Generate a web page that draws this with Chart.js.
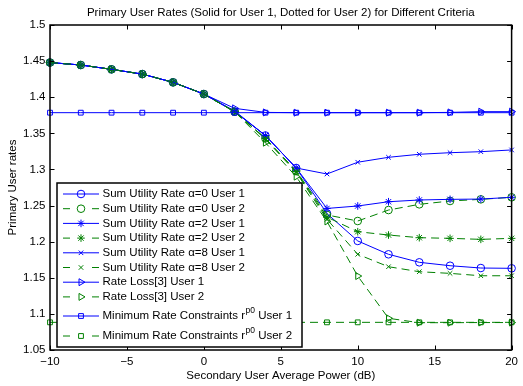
<!DOCTYPE html>
<html><head><meta charset="utf-8">
<script src="https://cdn.jsdelivr.net/npm/chart.js@4/dist/chart.umd.min.js"></script>
<style>html,body{margin:0;padding:0;background:#fff}#wrap{width:523px;height:386px}</style>
</head><body><div id="wrap"><canvas id="c" width="523" height="386"></canvas></div>
<script>
// ---- data ----
const xValues = [-10,-8,-6,-4,-2,0,2,4,6,8,10,12,14,16,18,20];
const sumU0User1 = [1.448,1.4446,1.4386,1.432,1.4206,1.4044,1.380,1.347,1.302,1.239,1.201,1.1825,1.1714,1.1667,1.1635,1.1631];
const sumU0User2 = [1.448,1.4446,1.4386,1.432,1.4206,1.4044,1.380,1.343,1.298,1.237,1.2286,1.2438,1.2517,1.2563,1.2586,1.2614];
const sumU2User1 = [1.448,1.4446,1.4386,1.432,1.4206,1.4044,1.380,1.347,1.302,1.246,1.2494,1.2553,1.2577,1.2586,1.259,1.2614];
const sumU2User2 = [1.448,1.4446,1.4386,1.432,1.4206,1.4044,1.380,1.343,1.297,1.234,1.2138,1.2092,1.2055,1.2046,1.2032,1.2046];
const sumU8User1 = [1.448,1.4446,1.4386,1.432,1.4206,1.4044,1.381,1.347,1.302,1.2937,1.310,1.3168,1.321,1.3232,1.3246,1.327];
const sumU8User2 = [1.448,1.4446,1.4386,1.432,1.4206,1.4044,1.380,1.342,1.296,1.231,1.1825,1.1653,1.1584,1.1561,1.1528,1.1528];
const rateLossUser1 = [1.448,1.4446,1.4386,1.432,1.4206,1.4044,1.3846,1.379,1.3786,1.3786,1.3786,1.3786,1.3786,1.379,1.380,1.380];
const rateLossUser2 = [1.448,1.4446,1.4386,1.432,1.4206,1.4044,1.380,1.337,1.290,1.228,1.1524,1.0939,1.0878,1.0878,1.088,1.088];
const minRateUser1 = [1.3786,1.3786,1.3786,1.3786,1.3786,1.3786,1.3786,1.3786,1.3786,1.3786,1.3786,1.3786,1.3786,1.3786,1.3786,1.3786];
const minRateUser2 = [1.0883,1.0883,1.0883,1.0883,1.0883,1.0883,1.0883,1.0883,1.0883,1.0883,1.0883,1.0883,1.0883,1.0883,1.0883,1.0883];
const seriesLabels = [
  "Sum Utility Rate \u03b1=0 User 1","Sum Utility Rate \u03b1=0 User 2",
  "Sum Utility Rate \u03b1=2 User 1","Sum Utility Rate \u03b1=2 User 2",
  "Sum Utility Rate \u03b1=8 User 1","Sum Utility Rate \u03b1=8 User 2",
  "Rate Loss[3] User 1","Rate Loss[3] User 2",
  "Minimum Rate Constraints r^{p0} User 1","Minimum Rate Constraints r^{p0} User 2"];
const xTicks = [-10,-5,0,5,10,15,20];
const yTicks = [1.05,1.1,1.15,1.2,1.25,1.3,1.35,1.4,1.45,1.5];
const titleText = "Primary User Rates (Solid for User 1, Dotted for User 2) for Different Criteria";
const xTitle = "Secondary User Average Power (dB)";
const yTitle = "Primary User rates";

// ---- styles ----
const FONT = "'Liberation Sans', Arial, Helvetica, sans-serif";
const FS = 11.5;
const BLUE = 'rgb(0,0,255)', GREEN = 'rgb(0,128,0)';
const allSeries = [sumU0User1,sumU0User2,sumU2User1,sumU2User2,sumU8User1,sumU8User2,rateLossUser1,rateLossUser2,minRateUser1,minRateUser2];
const markers = [
  {s:'circle',r:3.8,rot:0},{s:'circle',r:3.8,rot:0},
  {s:'star',r:3.8,rot:0},{s:'star',r:3.8,rot:0},
  {s:'crossRot',r:3.2,rot:0},{s:'crossRot',r:3.2,rot:0},
  {s:'triangle',r:4,rot:90},{s:'triangle',r:4,rot:90},
  {s:'rect',r:3.4,rot:0},{s:'rect',r:3.4,rot:0}];
const DASH = [8,5];

const datasets = allSeries.map((arr,i)=>{
  const user2 = i%2===1;
  const col = user2?GREEN:BLUE;
  return {
    label: seriesLabels[i],
    data: xValues.map((x,k)=>({x:x,y:arr[k]})),
    order: 20-i,
    borderColor: col, pointBorderColor: col,
    backgroundColor:'rgba(0,0,0,0)', pointBackgroundColor:'rgba(0,0,0,0)',
    borderWidth: 1, borderDash: user2?DASH:[],
    pointStyle: markers[i].s, pointRadius: markers[i].r, pointRotation: markers[i].rot,
    pointBorderWidth: 1, pointHoverRadius: markers[i].r,
    tension: 0, clip: false, fill:false
  };
});

const framePlugin = {
  id:'frame',
  afterDraw(chart){
    const {ctx, chartArea:{left,right,top,bottom}, scales:{x,y}} = chart;
    ctx.save();
    // title
    ctx.fillStyle='#000'; ctx.font=FS+'px '+FONT; ctx.textAlign='center'; ctx.textBaseline='middle';
    ctx.fillText(titleText,(left+right)/2,12.6);
    // ticks
    ctx.strokeStyle='#000'; ctx.lineWidth=1; const tl=4.5;
    ctx.beginPath();
    xTicks.forEach(v=>{const p=Math.round(x.getPixelForValue(v))+0.5;
      ctx.moveTo(p,bottom);ctx.lineTo(p,bottom-tl);ctx.moveTo(p,top);ctx.lineTo(p,top+tl);});
    yTicks.forEach(v=>{const p=Math.round(y.getPixelForValue(v))+0.5;
      ctx.moveTo(left,p);ctx.lineTo(left+tl,p);ctx.moveTo(right,p);ctx.lineTo(right-tl,p);});
    ctx.stroke();
    ctx.lineWidth=1.5; ctx.strokeRect(left,top,right-left,bottom-top);
    // legend
    const lx=57, ly=183, lw=245, lh=164;
    ctx.fillStyle='#fff'; ctx.fillRect(lx,ly,lw,lh);
    ctx.lineWidth=1.5; ctx.strokeStyle='#000'; ctx.strokeRect(lx,ly,lw,lh);
    const rows=[194,208.7,223.4,238.1,252.8,267.5,282.2,296.9,316,336];
    chart.data.datasets.forEach((ds,i)=>{
      const yy=rows[i];
      const user2=i%2===1;
      ctx.strokeStyle=ds.borderColor; ctx.lineWidth=1; ctx.setLineDash([]);
      ctx.beginPath();
      if(user2){ctx.moveTo(63,yy);ctx.lineTo(70,yy);ctx.moveTo(92,yy);ctx.lineTo(99,yy);}
      else {ctx.moveTo(63,yy);ctx.lineTo(99,yy);}
      ctx.stroke();
      ctx.fillStyle='rgba(0,0,0,0)';
      Chart.helpers.drawPoint(ctx,{pointStyle:ds.pointStyle,rotation:ds.pointRotation,radius:ds.pointRadius,borderWidth:1},81,yy);
      // text
      ctx.fillStyle='#000'; ctx.textAlign='left'; ctx.textBaseline='middle';
      const lab=ds.label; let tx=102.5;
      const m=lab.match(/^(.*)\^\{(.*?)\}(.*)$/);
      if(m){
        ctx.font=FS+'px '+FONT; ctx.fillText(m[1],tx,yy); tx+=ctx.measureText(m[1]).width;
        ctx.font='8.5px '+FONT; ctx.fillText(m[2],tx+0.5,yy-5); tx+=ctx.measureText(m[2]).width+0.5;
        ctx.font=FS+'px '+FONT; ctx.fillText(m[3],tx,yy);
      } else { ctx.font=FS+'px '+FONT; ctx.fillText(lab,tx,yy); }
    });
    ctx.restore();
  }
};

new Chart(document.getElementById('c'),{
  type:'line',
  data:{datasets:datasets},
  options:{
    responsive:false, animation:false, devicePixelRatio:1,
    layout:{padding:{left:0,right:7,top:25,bottom:0}},
    plugins:{legend:{display:false},title:{display:false},tooltip:{enabled:false}},
    scales:{
      x:{type:'linear',min:-10,max:20,
        grid:{display:false,drawTicks:false}, border:{display:false},
        afterBuildTicks:s=>{s.ticks=xTicks.map(v=>({value:v}));},
        afterFit:s=>{s.height=36;},
        ticks:{padding:5,color:'#000',font:{size:FS,family:FONT},maxRotation:0,autoSkip:false,
          callback:v=>String(v).replace('-','\u2212')},
        title:{display:true,text:xTitle,color:'#000',font:{size:FS,family:FONT},padding:{top:0,bottom:3.5}}},
      y:{type:'linear',min:1.05,max:1.5,
        grid:{display:false,drawTicks:false}, border:{display:false},
        afterBuildTicks:s=>{s.ticks=yTicks.map(v=>({value:v}));},
        afterFit:s=>{s.width=50;},
        ticks:{padding:4.5,color:'#000',font:{size:FS,family:FONT},autoSkip:false,
          callback:v=>String(parseFloat(v.toFixed(2)))},
        title:{display:true,text:yTitle,color:'#000',font:{size:FS,family:FONT},padding:{top:5.7,bottom:0}}}
    }
  },
  plugins:[framePlugin]
});
</script></body></html>
